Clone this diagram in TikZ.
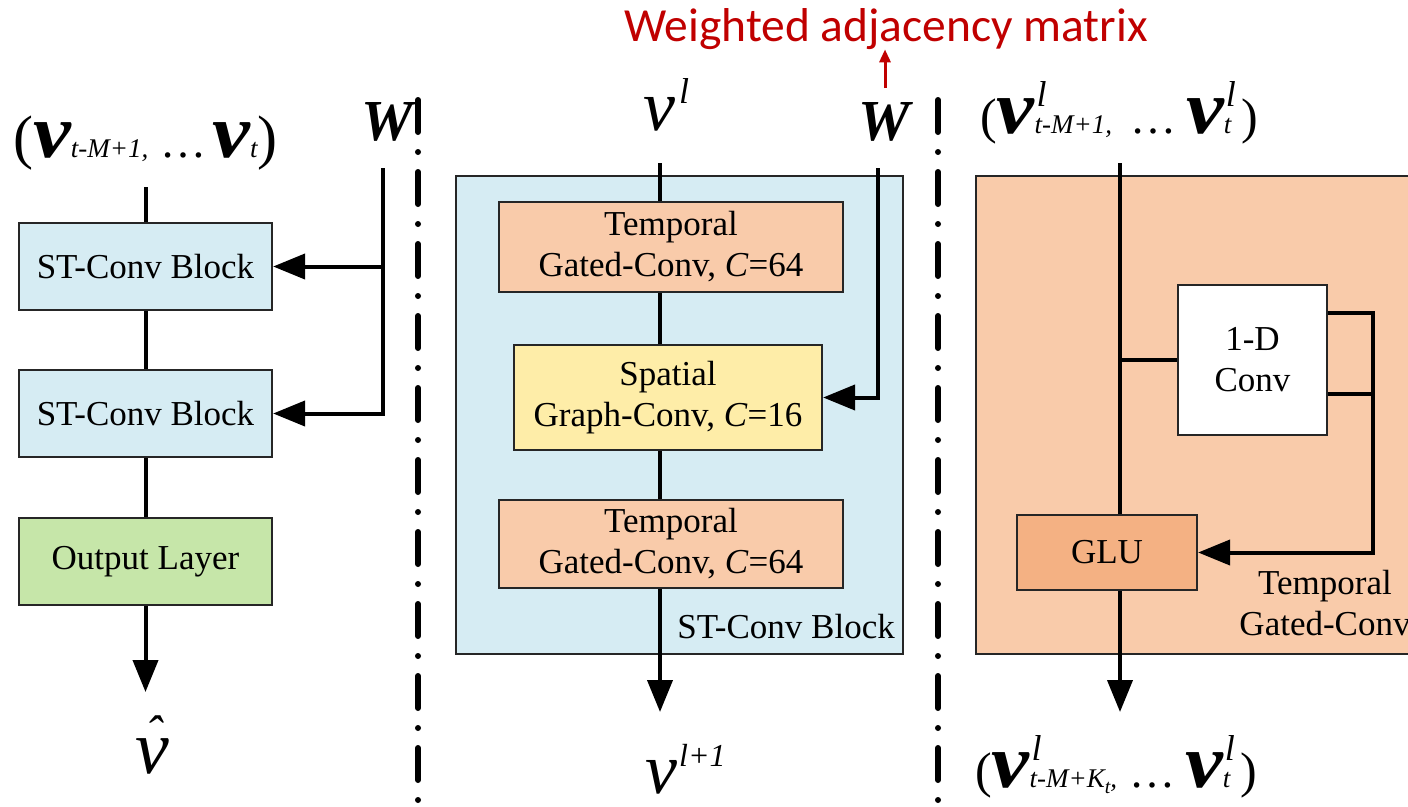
\documentclass[tikz,border=0pt]{standalone}
\usepackage{fontspec}
\usepackage{graphicx}
\setmainfont{Liberation Serif}
\newfontfamily\notefont{Carlito}
\usetikzlibrary{arrows.meta}

\definecolor{stblue}{HTML}{D6ECF3}
\definecolor{tpeach}{HTML}{F9CBAA}
\definecolor{sgyellow}{HTML}{FEEDA8}
\definecolor{outgreen}{HTML}{C6E6A9}
\definecolor{glufill}{HTML}{F4B183}
\definecolor{notered}{HTML}{C00000}

% glyph helpers for the signal labels
\newcommand\bv{\scalebox{1.12}[1]{\fontsize{76}{76}\selectfont\bfseries\itshape v}}
\newcommand\rv{{\fontsize{72}{72}\selectfont\itshape v}}
\newcommand\lo[1]{{\fontsize{27}{27}\selectfont\itshape #1}}
\newcommand\hi[1]{\raisebox{27pt}{\fontsize{36}{36}\selectfont\itshape #1}}
\newcommand\both[2]{\rlap{\hspace{2pt}\hi{#1}}\lo{#2}}
\newcommand\paren[2]{{\fontsize{#1}{#1}\selectfont #2}}
\newcommand\dotsgap{{\fontsize{46}{46}\selectfont …}}

\begin{document}
\begin{tikzpicture}[x=1pt,y=-1pt,
  box/.style={draw=black!85, line width=2.2pt, fill=#1, inner sep=0pt,
              font=\fontsize{35}{41}\selectfont, align=center},
  conn/.style={line width=4pt},
  arr/.style={conn, -{Triangle[length=32pt,width=25pt]}},
  sepline/.style={line width=6pt, line cap=round,
                  dash pattern=on 32pt off 20pt on 0pt off 20pt},
  wlab/.style={inner sep=0pt, font=\fontsize{58}{58}\selectfont\bfseries\itshape},
  lbl/.style={inner sep=0pt}]

\useasboundingbox (0,0) rectangle (1408,806);

% ---------------- left: whole network ----------------
\node[box=stblue, minimum width=253pt, minimum height=87pt] (b1) at (145.5,266.5) {ST-Conv Block};
\node[box=stblue, minimum width=253pt, minimum height=87pt] (b2) at (145.5,413.5) {ST-Conv Block};
\node[box=outgreen, minimum width=253pt, minimum height=87pt] (outl) at (145.5,561.5) {Output Layer};

\node[lbl, anchor=base west] (inLbl) at (13,157)
  {\paren{60}{(}\bv\lo{t-M+1,}\hspace{12pt}\dotsgap\hspace{6pt}\bv\lo{t}\paren{60}{)}};
\node[wlab, anchor=base] (wL) at (387,140) {W};

\coordinate (inL) at (145.5,187);
\coordinate (vhatTip) at (145.5,692);
\coordinate (wLtop) at (383,168);

\draw[conn] (inL) -- (b1.north);
\draw[conn] (b1) -- (b2);
\draw[conn] (b2) -- (outl);
\draw[arr] (outl) -- (vhatTip);
\draw[arr] (wLtop) -- (wLtop |- b2.east) -- (b2.east);
\draw[arr] (wLtop |- b1.east) -- (b1.east);

\node[lbl, anchor=base] (vhat) at (152,773)
  {\fontsize{76}{76}\selectfont\itshape\rlap{\hspace{10pt}\raisebox{23pt}{\fontsize{50}{50}\selectfont ˆ}}v};

% separators
\draw[sepline] (418,100) -- (418,806);
\draw[sepline] (938,100) -- (938,806);

% ---------------- middle: ST-Conv block ----------------
\node[box=stblue, anchor=north west, minimum width=447pt, minimum height=478pt] (stblock) at (455,175) {};
\node[box=tpeach, minimum width=344pt, minimum height=90pt] (t1) at (671,247) {Temporal\\Gated-Conv, \textit{C}=64};
\node[box=sgyellow, minimum width=308pt, minimum height=105pt] (sg) at (668,397.5) {Spatial\\Graph-Conv, \textit{C}=16};
\node[box=tpeach, minimum width=344pt, minimum height=88pt] (t2) at (671,544) {Temporal\\Gated-Conv, \textit{C}=64};
\node[lbl, anchor=base east, font=\fontsize{35}{41}\selectfont] (stname) at (895,638) {ST-Conv Block};

\node[lbl, anchor=base west] (vl) at (643,130) {\rv\hspace{4pt}\hi{l}};
\node[wlab, anchor=base] (wM) at (884,140) {W};
\node[lbl, anchor=base west] (vl1) at (645,793) {\rv\hspace{2pt}\hi{\fontsize{32}{32}\selectfont l+1}};

\coordinate (vlFoot) at (660,163);
\coordinate (vl1Tip) at (660,712);
\coordinate (wMtop) at (878,168);

\draw[conn] (vlFoot) -- (vlFoot |- t1.north);
\draw[conn] (t1.south -| vlFoot) -- (sg.north -| vlFoot);
\draw[conn] (sg.south -| vlFoot) -- (t2.north -| vlFoot);
\draw[arr] (t2.south -| vlFoot) -- (vl1Tip);
\draw[arr] (wMtop) -- (wMtop |- sg.east) -- (sg.east);

% annotation
\node[lbl, anchor=base, text=notered, font=\notefont\fontsize{47.5}{50}\selectfont] (adj) at (886,41) {Weighted adjacency matrix};
\coordinate (adjFoot) at (885,88);
\draw[notered, line width=3pt, -{Triangle[length=13pt,width=11pt]}] (adjFoot) -- (adjFoot |- adj.south);

% ---------------- right: temporal gated conv ----------------
\node[box=tpeach, anchor=north west, minimum width=470pt, minimum height=478pt] (tgc) at (975,175) {};
\node[box=white, minimum width=149pt, minimum height=150pt] (conv) at (1252.5,360) {1-D\\Conv};
\node[box=glufill, minimum width=180pt, minimum height=75pt] (glu) at (1107,552.5) {GLU};
\node[lbl, align=center, font=\fontsize{35}{41}\selectfont] (tgcname) at (1325,603) {Temporal\\Gated-Conv};

\node[lbl, anchor=base west] (inR) at (980,133)
  {\paren{50}{(}\bv\both{l}{t-M+1,}\hspace{18pt}\dotsgap\hspace{10pt}\bv\both{l}{t}\hspace{10pt}\paren{50}{)}};
\node[lbl, anchor=base west] (outR) at (975,787)
  {\paren{50}{(}\bv\both{l}{t-M+K\raisebox{-6pt}{\fontsize{20}{20}\selectfont t},}\hspace{12pt}\dotsgap\hspace{10pt}\bv\both{l}{t}\hspace{10pt}\paren{50}{)}};

\coordinate (mainTop) at (1120,163);
\coordinate (outTip) at (1120,712);
\coordinate (fbA) at (1373,313);
\coordinate (fbB) at (1373,394);

\draw[conn] (mainTop) -- (mainTop |- glu.north);
\draw[conn] (mainTop |- conv.west) -- (conv.west);
\draw[arr] (conv.east |- fbA) -- (fbA) -- (fbA |- glu.east) -- (glu.east);
\draw[conn] (conv.east |- fbB) -- (fbB);
\draw[arr] (glu.south -| mainTop) -- (outTip);

\end{tikzpicture}
\end{document}
